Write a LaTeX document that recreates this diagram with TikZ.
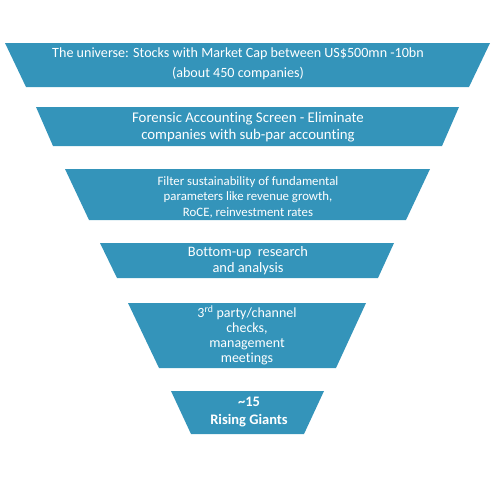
\documentclass[tikz,border=0pt]{standalone}
\usepackage{fontspec}
\setmainfont{Carlito}[Ligatures=NoCommon]
\usepackage{xcolor}
\usepackage{tikz}
\definecolor{funnelblue}{RGB}{52,148,186}

\begin{document}
\begin{tikzpicture}[x=1pt,y=-1pt,
layer/.style={fill=funnelblue},
caption/.style={text=white,align=center,inner sep=0pt}]
\useasboundingbox(0,0)rectangle(495,485);
\fill[layer](5,43)--(490,43)--(469,87)--(26,87)--cycle;
\node[caption,font=\fontsize{14.1}{20}\selectfont](universe)at(238,64)
{The universe: Stocks with Market Cap between US\$500mn -10bn\\(about 450 companies)};
\fill[layer](36,107)--(459,107)--(442,146)--(53,146)--cycle;
\node[caption,font=\fontsize{14.8}{17}\selectfont](forensic)at(248,127.5)
{Forensic Accounting Screen - Eliminate\\companies with sub-par accounting};
\fill[layer](65,169)--(430,169)--(406,220)--(89,220)--cycle;
\node[caption,font=\fontsize{12.8}{15.5}\selectfont](filter)at(248,197)
{Filter sustainability of fundamental\\parameters like revenue growth,\\RoCE, reinvestment rates};
\fill[layer](100,243)--(394,243)--(378,278)--(117,278)--cycle;
\node[caption,font=\fontsize{14.4}{16}\selectfont](research)at(248,261)
{Bottom-up\ \ research\\and analysis};
\fill[layer](128,303)--(366,303)--(336,368)--(159,368)--cycle;
\node[caption,font=\fontsize{14}{15}\selectfont](checks)at(247,335.5)
{3\textsuperscript{rd} party/channel\\checks,\\management\\meetings};
\fill[layer](171,391)--(324,391)--(304,434)--(191,434)--cycle;
\node[caption,font=\fontsize{14.5}{18}\selectfont\bfseries](giants)at(249,412)
{\textasciitilde15\\Rising Giants};
\end{tikzpicture}
\end{document}
